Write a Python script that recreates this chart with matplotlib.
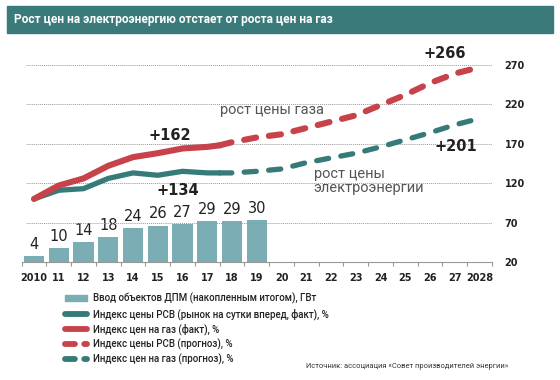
import matplotlib
matplotlib.use('Agg')
import matplotlib.pyplot as plt
from matplotlib.lines import Line2D
from matplotlib.patches import Patch, Rectangle
import numpy as np

# data
bar_years = [2010, 2011, 2012, 2013, 2014, 2015, 2016, 2017, 2018, 2019]
dpm_gw = [4, 10, 14, 18, 24, 26, 27, 29, 29, 30]

gas_fact_years = [2010, 2011, 2012, 2013, 2014, 2015, 2016, 2017, 2017.5]
gas_fact = [100, 117, 126, 142, 153, 158, 164, 166, 168]
gas_fc_years = [2017.5, 2018, 2019, 2020, 2021, 2022, 2023, 2024, 2025, 2026, 2027, 2028]
gas_fc = [168, 172, 178, 182, 190, 198, 206, 219, 232, 247, 259, 267]

rsv_fact_years = [2010, 2011, 2012, 2013, 2014, 2015, 2016, 2017, 2017.5]
rsv_fact = [100, 111, 113, 126, 133, 130, 135, 133, 133]
rsv_fc_years = [2017.5, 2018, 2019, 2020, 2021, 2022, 2023, 2024, 2025, 2026, 2027, 2028]
rsv_fc = [133, 133, 135, 138, 146, 152, 158, 166, 175, 184, 194, 202]

xtick_labels = ['2010', '11', '12', '13', '14', '15', '16', '17', '18', '19',
                '20', '21', '22', '23', '24', '25', '26', '27', '2028']
yticks = [20, 70, 120, 170, 220, 270]

legend_labels = ['Ввод объектов ДПМ (накопленным итогом), ГВт',
                 'Индекс цены РСВ (рынок на сутки вперед, факт), %',
                 'Индекс цен на газ (факт), %',
                 'Индекс цены РСВ (прогноз), %',
                 'Индекс цен на газ (прогноз), %']

RED = '#c7424a'
TEAL = '#367a7a'
BAR = '#7aadb4'
TXT = '#222222'

plt.rcParams['font.family'] = ['Roboto', 'DejaVu Sans']

fig = plt.figure(figsize=(5.6, 3.8), dpi=100)

# title band
fig.patches.append(Rectangle((7 / 560, 1 - 33 / 380), 546 / 560, 27 / 380,
                             transform=fig.transFigure, color='#3a7a7b', zorder=0))
fig.text(14 / 560, 1 - 20 / 380, 'Рост цен на электроэнергию отстает от роста цен на газ',
         color='white', fontsize=8.6, fontweight='bold', va='center')

ax = fig.add_axes([21.6 / 560, 1 - 262 / 380, (492 - 21.6) / 560, (262 - 57) / 380])
ax.set_xlim(2009.5, 2028.5)
ax.set_ylim(20, 280)

# bars on their own scale
ax2 = ax.twinx()
ax2.set_ylim(0, 260 / 1.78)
bars = ax2.bar(bar_years, dpm_gw, width=0.82, color=BAR, zorder=2)
ax2.bar_label(bars, padding=3, fontsize=10.5, color=TXT, family='DejaVu Sans')
ax2.set_yticks([])
for s in ax2.spines.values():
    s.set_visible(False)
ax2.set_zorder(1)
ax.set_zorder(2)
ax.patch.set_visible(False)

for y in yticks[1:]:
    ax.axhline(y, xmin=0.01, color='#999999', lw=0.7, ls=(0, (1, 1)), zorder=0)

ax.plot(rsv_fact_years, rsv_fact, color=TEAL, lw=3.8, solid_capstyle='round', zorder=3)
ax.plot(gas_fact_years, gas_fact, color=RED, lw=4.4, solid_capstyle='round', zorder=4)
ax.plot(rsv_fc_years, rsv_fc, color=TEAL, lw=3.8, dashes=(2.3, 2.35), dash_capstyle='round', zorder=3)
ax.plot(gas_fc_years, gas_fc, color=RED, lw=4.4, dashes=(2.0, 2.1), dash_capstyle='round', zorder=4)

ax.text(2019.6, 213, 'рост цены газа', fontsize=10.5, color='#555555',
        va='center', ha='center')
ax.text(2021.3, 140, 'рост цены\nэлектроэнергии', fontsize=10.5, color='#555555',
        va='top', ha='left', linespacing=0.95)
ax.text(2015.5, 181, '+162', fontsize=10.5, fontweight='bold', color=TXT, family='DejaVu Sans',
        ha='center', va='center')
ax.text(2015.8, 111, '+134', fontsize=10.5, fontweight='bold', color=TXT, family='DejaVu Sans',
        ha='center', va='center')
ax.text(2026.6, 285, '+266', fontsize=10.5, fontweight='bold', color=TXT, family='DejaVu Sans',
        ha='center', va='center')
ax.text(2027.05, 167, '+201', fontsize=10.5, fontweight='bold', color=TXT, family='DejaVu Sans',
        ha='center', va='center')

# axes styling
for k in ['top', 'left', 'right']:
    ax.spines[k].set_visible(False)
ax.spines['bottom'].set_color('#999999')
ax.spines['bottom'].set_linewidth(0.8)
ax.set_xticks(np.arange(2009.5, 2029, 1.0))
ax.set_xticks(np.arange(2010, 2029), minor=True)
ax.set_xticklabels([])
ax.set_xticklabels(xtick_labels, minor=True, fontsize=7, fontweight='bold', color=TXT,
                   family='DejaVu Sans')
ax.tick_params(axis='x', which='major', length=3, color='#999999', width=0.8)
ax.tick_params(axis='x', which='minor', length=0, pad=8)
ax.yaxis.tick_right()
ax.set_yticks(yticks)
ax.set_yticklabels([str(v) for v in yticks], fontsize=7, fontweight='bold', color=TXT,
                   family='DejaVu Sans')
ax.tick_params(axis='y', length=0, pad=9)

handles = [Patch(color=BAR),
           Line2D([], [], color=TEAL, lw=4.2, solid_capstyle='round'),
           Line2D([], [], color=RED, lw=4.2, solid_capstyle='round'),
           Line2D([], [], color=RED, lw=4.2, dashes=(1.7, 1.6), dash_capstyle='round'),
           Line2D([], [], color=TEAL, lw=4.2, dashes=(1.7, 1.6), dash_capstyle='round')]
leg = fig.legend(handles, legend_labels, loc='upper left', bbox_to_anchor=(60 / 560, 1 - 288 / 380),
                 frameon=False, fontsize=7, handlelength=2.3, handleheight=0.6,
                 labelspacing=0.38, handletextpad=0.6, borderpad=0)
for t in leg.get_texts():
    t.set_fontweight('medium')
    t.set_color(TXT)

fig.text(508 / 560, 1 - 366 / 380, 'Источник: ассоциация «Совет производителей энергии»',
         fontsize=5.4, ha='right', va='center', color='#333333')

fig.savefig('out.png', dpi=100)
